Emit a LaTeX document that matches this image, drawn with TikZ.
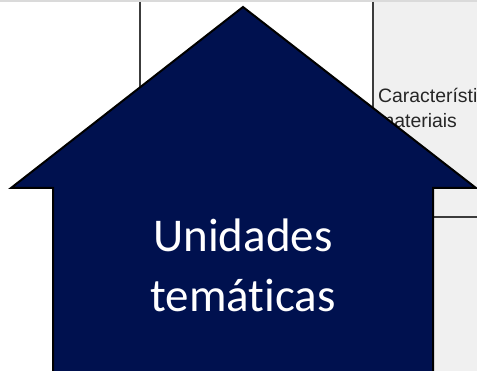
\documentclass[tikz,border=0pt]{standalone}
\usepackage{fontspec}
\newfontfamily\calibrifont[Ligatures=NoCommon]{Carlito}
\newfontfamily\arialfont{Liberation Sans}
\usetikzlibrary{positioning}
\definecolor{arrowblue}{HTML}{00114F}
\definecolor{cellgray}{HTML}{F0F0F0}
\definecolor{rulegray}{HTML}{DADADA}
\definecolor{gridgray}{HTML}{3C3C3C}
\definecolor{celltextcol}{HTML}{262626}

\begin{document}
\begin{tikzpicture}[x=1pt,y=-1pt,
    gridline/.style={gridgray,line width=1.3pt},
    housearrow/.style={fill=arrowblue,draw=black,line width=2pt,line join=miter},
    celltext/.style={anchor=base west,inner sep=0pt,text=celltextcol,font=\arialfont\fontsize{19.4}{25}\selectfont},
    titletext/.style={align=center,inner sep=0pt,text=white,font=\calibrifont\fontsize{47}{60}\selectfont}]
    \path[use as bounding box,clip] (0,0) rectangle (477,371);

    % spreadsheet behind the arrow
    \fill[cellgray] (373,2) rectangle (477,371);
    \fill[rulegray] (0,0) rectangle (477,2);
    \draw[gridline] (140,2) -- (140,120);
    \draw[gridline] (373,2) -- (373,371);
    \draw[gridline] (373,217) -- (477,217);
    \node[celltext] (carac) at (378,103) {Característi};
    \node[celltext] (mater) at (378,128) {materiais};

    % house shaped arrow
    \draw[housearrow] (243,7) -- (476,188) -- (433,188) -- (433,380)
        -- (53,380) -- (53,188) -- (11,188) -- cycle;
    \node[titletext] (unid) at (243,265) {Unidades\\temáticas};
\end{tikzpicture}
\end{document}
